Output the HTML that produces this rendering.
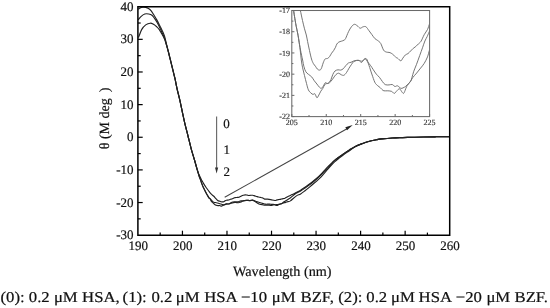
<!DOCTYPE html>
<html><head><meta charset="utf-8"><style>
html,body{margin:0;padding:0;background:#fff;}
body{width:550px;height:308px;overflow:hidden;position:relative;}
svg{position:absolute;left:0;top:0;will-change:transform;}
text{font-family:"Liberation Serif",serif;text-rendering:geometricPrecision;fill:#111;stroke:#111;stroke-width:0.2px;}
.tl{font-size:13px;}
.il{font-size:8px;fill:#333;stroke:#333;stroke-width:0.15px;}
.ax{font-size:14px;}
.cap{font-size:15px;}
</style></head><body>
<svg width="550" height="308" viewBox="0 0 550 308">
<defs><clipPath id="ic"><rect x="291.80" y="10.50" width="137.80" height="106.10"/></clipPath></defs>
<path d="M138.30 9.30 C138.62 9.07 139.45 8.23 140.20 7.90 C140.95 7.57 141.88 7.38 142.80 7.30 C143.72 7.22 144.75 7.22 145.70 7.40 C146.65 7.58 147.58 7.83 148.50 8.40 C149.42 8.97 150.30 9.70 151.20 10.80 C152.10 11.90 152.97 13.48 153.90 15.00 C154.83 16.52 155.90 18.28 156.80 19.90 C157.70 21.52 158.57 23.25 159.30 24.70 C160.03 26.15 160.57 27.30 161.20 28.60 C161.83 29.90 162.53 31.20 163.10 32.50 C163.67 33.80 164.18 35.10 164.60 36.40 C165.02 37.70 165.25 38.87 165.60 40.30 C165.95 41.73 166.20 42.93 166.70 45.00 C167.20 47.07 168.02 50.33 168.60 52.70 C169.18 55.07 169.67 57.03 170.20 59.20 C170.73 61.37 171.27 63.53 171.80 65.70 C172.33 67.87 172.87 70.03 173.40 72.20 C173.93 74.37 174.37 75.85 175.00 78.70 C175.63 81.55 176.43 85.88 177.20 89.30 C177.97 92.72 178.80 95.70 179.60 99.20 C180.40 102.70 181.15 106.37 182.00 110.30 C182.85 114.23 183.70 118.52 184.70 122.80 C185.70 127.08 186.92 131.67 188.00 136.00 C189.08 140.33 190.12 144.80 191.20 148.80 C192.28 152.80 193.50 156.53 194.50 160.00 C195.50 163.47 196.38 167.00 197.20 169.60 C198.02 172.20 198.62 173.77 199.40 175.60 C200.18 177.43 201.17 179.22 201.90 180.60 C202.63 181.98 203.10 182.75 203.80 183.90 C204.50 185.05 205.28 186.32 206.10 187.50 C206.92 188.68 207.83 189.88 208.70 191.00 C209.57 192.12 210.59 193.44 211.30 194.20 C212.01 194.96 212.47 195.18 212.93 195.56 C213.40 195.95 213.76 196.19 214.10 196.52 C214.43 196.84 214.59 197.12 214.94 197.52 C215.28 197.92 215.75 198.47 216.17 198.92 C216.59 199.37 217.04 199.88 217.46 200.21 C217.88 200.54 218.27 200.73 218.69 200.92 C219.11 201.10 219.57 201.18 219.99 201.32 C220.41 201.46 220.80 201.65 221.22 201.75 C221.64 201.85 222.09 201.92 222.51 201.92 C222.93 201.91 223.32 201.90 223.74 201.72 C224.16 201.53 224.62 201.06 225.04 200.81 C225.46 200.56 225.78 200.32 226.27 200.21 C226.75 200.09 227.46 200.18 227.95 200.12 C228.45 200.05 228.83 199.94 229.25 199.81 C229.67 199.68 230.06 199.47 230.48 199.32 C230.90 199.17 231.35 199.07 231.77 198.92 C232.19 198.77 232.66 198.58 233.00 198.41 C233.35 198.24 233.49 198.05 233.84 197.92 C234.20 197.78 234.64 197.68 235.14 197.61 C235.63 197.54 236.26 197.52 236.82 197.47 C237.38 197.42 238.05 197.39 238.50 197.32 C238.96 197.25 239.05 197.27 239.54 197.06 C240.03 196.84 240.79 196.31 241.42 196.01 C242.04 195.71 242.66 195.45 243.30 195.26 C243.93 195.07 244.60 194.90 245.24 194.87 C245.87 194.85 246.49 195.00 247.11 195.10 C247.74 195.20 248.37 195.45 248.99 195.47 C249.62 195.50 250.24 195.29 250.87 195.26 C251.50 195.22 252.11 195.16 252.75 195.26 C253.38 195.36 254.05 195.66 254.69 195.86 C255.33 196.06 255.94 196.26 256.57 196.46 C257.19 196.66 257.82 196.91 258.44 197.06 C259.07 197.21 259.69 197.24 260.32 197.36 C260.96 197.49 261.63 197.56 262.26 197.81 C262.90 198.06 263.52 198.63 264.14 198.86 C264.77 199.08 265.44 199.09 266.02 199.15 C266.60 199.20 267.13 199.17 267.64 199.19 C268.14 199.22 268.54 199.25 269.06 199.32 C269.58 199.39 270.18 199.51 270.74 199.62 C271.31 199.74 272.02 199.95 272.43 200.02 C272.84 200.10 272.73 200.01 273.20 200.09 C273.68 200.16 274.72 200.49 275.28 200.49 C275.84 200.49 276.08 200.24 276.57 200.09 C277.07 199.94 277.69 199.70 278.25 199.58 C278.82 199.46 279.38 199.48 279.94 199.38 C280.50 199.28 281.06 199.11 281.62 198.98 C282.18 198.85 282.74 198.69 283.30 198.58 C283.87 198.46 284.14 198.67 284.99 198.29 C285.84 197.91 287.20 196.91 288.40 196.30 C289.60 195.69 290.92 195.23 292.20 194.60 C293.48 193.97 294.70 193.23 296.10 192.50 C297.50 191.77 299.12 191.08 300.60 190.20 C302.08 189.32 303.52 188.23 305.00 187.20 C306.48 186.17 308.00 185.12 309.50 184.00 C311.00 182.88 312.50 181.73 314.00 180.50 C315.50 179.27 317.08 177.92 318.50 176.60 C319.92 175.28 321.17 174.00 322.50 172.60 C323.83 171.20 325.17 169.60 326.50 168.20 C327.83 166.80 329.15 165.50 330.50 164.20 C331.85 162.90 333.10 161.65 334.60 160.40 C336.10 159.15 337.85 157.92 339.50 156.70 C341.15 155.48 342.85 154.23 344.50 153.10 C346.15 151.97 347.73 150.93 349.40 149.90 C351.07 148.87 352.58 147.87 354.50 146.90 C356.42 145.93 358.98 144.87 360.90 144.10 C362.82 143.33 364.25 142.85 366.00 142.30 C367.75 141.75 369.65 141.23 371.40 140.80 C373.15 140.37 374.77 140.02 376.50 139.70 C378.23 139.38 379.17 139.18 381.80 138.90 C384.43 138.62 388.80 138.22 392.30 138.00 C395.80 137.78 399.35 137.72 402.80 137.60 C406.25 137.47 409.52 137.35 413.00 137.25 C416.48 137.15 419.87 137.07 423.70 137.00 C427.53 136.93 431.78 136.85 436.00 136.80 C440.22 136.75 446.83 136.72 449.00 136.70" fill="none" stroke="#222" stroke-width="1.15"/>
<path d="M138.30 19.80 C138.73 19.27 139.82 17.57 140.90 16.60 C141.98 15.63 143.50 14.43 144.80 14.00 C146.10 13.57 147.50 13.80 148.70 14.00 C149.90 14.20 150.97 14.38 152.00 15.20 C153.03 16.02 154.02 17.63 154.90 18.90 C155.78 20.17 156.57 21.50 157.30 22.80 C158.03 24.10 158.73 25.57 159.30 26.70 C159.87 27.83 160.22 28.55 160.70 29.60 C161.18 30.65 161.72 31.93 162.20 33.00 C162.68 34.07 163.17 34.95 163.60 36.00 C164.03 37.05 164.43 38.20 164.80 39.30 C165.17 40.40 165.45 41.42 165.80 42.60 C166.15 43.78 166.43 44.72 166.90 46.40 C167.37 48.08 168.05 50.57 168.60 52.70 C169.15 54.83 169.67 57.03 170.20 59.20 C170.73 61.37 171.27 63.53 171.80 65.70 C172.33 67.87 172.87 70.03 173.40 72.20 C173.93 74.37 174.37 75.85 175.00 78.70 C175.63 81.55 176.43 85.88 177.20 89.30 C177.97 92.72 178.80 95.70 179.60 99.20 C180.40 102.70 181.15 106.37 182.00 110.30 C182.85 114.23 183.70 118.52 184.70 122.80 C185.70 127.08 186.92 131.67 188.00 136.00 C189.08 140.33 190.12 144.80 191.20 148.80 C192.28 152.80 193.50 156.53 194.50 160.00 C195.50 163.47 196.43 166.93 197.20 169.60 C197.97 172.27 198.53 174.27 199.10 176.00 C199.67 177.73 200.13 178.68 200.60 180.00 C201.07 181.32 201.42 182.60 201.90 183.90 C202.38 185.20 202.90 186.50 203.50 187.80 C204.10 189.10 204.85 190.47 205.50 191.70 C206.15 192.93 206.78 194.13 207.40 195.20 C208.02 196.27 208.71 197.50 209.20 198.10 C209.69 198.70 209.93 198.45 210.34 198.83 C210.76 199.20 211.34 199.94 211.70 200.36 C212.07 200.79 212.20 201.06 212.54 201.36 C212.89 201.66 213.29 201.96 213.77 202.16 C214.26 202.36 214.82 202.43 215.46 202.56 C216.09 202.70 216.96 202.80 217.59 202.96 C218.23 203.13 218.72 203.38 219.28 203.56 C219.84 203.74 220.40 203.89 220.96 204.05 C221.52 204.22 222.16 204.45 222.64 204.56 C223.13 204.67 223.45 204.75 223.87 204.72 C224.29 204.68 224.75 204.51 225.17 204.36 C225.59 204.22 225.98 203.92 226.40 203.85 C226.82 203.79 227.27 203.99 227.69 203.98 C228.11 203.96 228.52 203.88 228.92 203.78 C229.32 203.67 229.70 203.56 230.09 203.36 C230.48 203.16 230.82 202.81 231.25 202.59 C231.69 202.38 232.12 202.18 232.68 202.05 C233.24 201.93 234.02 201.89 234.62 201.87 C235.22 201.85 235.74 201.94 236.30 201.92 C236.86 201.89 237.43 201.83 237.99 201.72 C238.55 201.60 239.11 201.37 239.67 201.22 C240.23 201.08 240.79 200.91 241.35 200.82 C241.91 200.74 242.47 200.77 243.04 200.72 C243.60 200.67 244.14 200.57 244.72 200.52 C245.30 200.47 245.93 200.44 246.53 200.42 C247.14 200.41 247.86 200.39 248.34 200.44 C248.83 200.49 249.10 200.70 249.45 200.73 C249.79 200.76 250.09 200.70 250.42 200.62 C250.74 200.55 251.02 200.37 251.39 200.29 C251.75 200.20 252.26 200.12 252.62 200.13 C252.97 200.14 253.26 200.23 253.52 200.35 C253.78 200.47 253.90 200.65 254.17 200.84 C254.44 201.03 254.83 201.29 255.14 201.52 C255.46 201.74 255.74 201.97 256.05 202.19 C256.36 202.42 256.70 202.65 257.02 202.87 C257.34 203.09 257.68 203.35 257.99 203.53 C258.30 203.72 258.51 203.85 258.90 203.98 C259.29 204.11 259.81 204.21 260.32 204.32 C260.83 204.42 261.48 204.51 261.94 204.61 C262.40 204.71 262.71 204.82 263.11 204.90 C263.50 204.98 263.71 205.07 264.34 205.10 C264.96 205.13 266.02 205.08 266.86 205.10 C267.70 205.12 268.68 205.13 269.39 205.19 C270.09 205.26 270.51 205.52 271.07 205.50 C271.63 205.48 272.19 205.22 272.75 205.10 C273.31 204.98 273.87 204.76 274.43 204.79 C275.00 204.83 275.68 205.20 276.12 205.32 C276.56 205.43 276.78 205.54 277.09 205.50 C277.40 205.46 277.68 205.25 278.00 205.08 C278.31 204.92 278.59 204.66 278.97 204.48 C279.34 204.31 279.75 204.22 280.26 204.05 C280.77 203.89 281.53 203.64 282.01 203.47 C282.48 203.30 282.52 203.22 283.11 203.04 C283.70 202.85 284.74 202.60 285.57 202.36 C286.40 202.12 287.29 201.85 288.10 201.61 C288.90 201.36 289.09 201.80 290.43 200.89 C291.76 199.97 294.40 197.26 296.10 196.10 C297.80 194.94 299.12 194.80 300.60 193.90 C302.08 193.00 303.52 191.83 305.00 190.70 C306.48 189.57 308.00 188.33 309.50 187.10 C311.00 185.87 312.50 184.60 314.00 183.30 C315.50 182.00 317.08 180.63 318.50 179.30 C319.92 177.97 321.17 176.75 322.50 175.30 C323.83 173.85 325.17 172.15 326.50 170.60 C327.83 169.05 329.15 167.47 330.50 166.00 C331.85 164.53 333.10 163.17 334.60 161.80 C336.10 160.43 337.85 159.10 339.50 157.80 C341.15 156.50 342.85 155.18 344.50 154.00 C346.15 152.82 347.73 151.88 349.40 150.70 C351.07 149.52 352.58 148.00 354.50 146.90 C356.42 145.80 358.98 144.87 360.90 144.10 C362.82 143.33 364.25 142.85 366.00 142.30 C367.75 141.75 369.65 141.23 371.40 140.80 C373.15 140.37 374.77 140.02 376.50 139.70 C378.23 139.38 379.17 139.18 381.80 138.90 C384.43 138.62 388.80 138.22 392.30 138.00 C395.80 137.78 399.35 137.72 402.80 137.60 C406.25 137.47 409.52 137.35 413.00 137.25 C416.48 137.15 419.87 137.07 423.70 137.00 C427.53 136.93 431.78 136.85 436.00 136.80 C440.22 136.75 446.83 136.72 449.00 136.70" fill="none" stroke="#222" stroke-width="1.15"/>
<path d="M138.50 37.50 C139.05 36.15 140.60 31.50 141.80 29.40 C143.00 27.30 144.30 25.93 145.70 24.90 C147.10 23.87 148.83 23.25 150.20 23.20 C151.57 23.15 152.80 23.98 153.90 24.60 C155.00 25.22 155.90 26.07 156.80 26.90 C157.70 27.73 158.65 28.75 159.30 29.60 C159.95 30.45 160.22 31.18 160.70 32.00 C161.18 32.82 161.72 33.67 162.20 34.50 C162.68 35.33 163.17 36.15 163.60 37.00 C164.03 37.85 164.43 38.67 164.80 39.60 C165.17 40.53 165.45 41.47 165.80 42.60 C166.15 43.73 166.43 44.72 166.90 46.40 C167.37 48.08 168.05 50.57 168.60 52.70 C169.15 54.83 169.67 57.03 170.20 59.20 C170.73 61.37 171.27 63.53 171.80 65.70 C172.33 67.87 172.87 70.03 173.40 72.20 C173.93 74.37 174.37 75.85 175.00 78.70 C175.63 81.55 176.43 85.88 177.20 89.30 C177.97 92.72 178.80 95.70 179.60 99.20 C180.40 102.70 181.15 106.37 182.00 110.30 C182.85 114.23 183.70 118.52 184.70 122.80 C185.70 127.08 186.92 131.67 188.00 136.00 C189.08 140.33 190.12 144.80 191.20 148.80 C192.28 152.80 193.50 156.53 194.50 160.00 C195.50 163.47 196.43 166.93 197.20 169.60 C197.97 172.27 198.53 174.27 199.10 176.00 C199.67 177.73 200.13 178.68 200.60 180.00 C201.07 181.32 201.42 182.60 201.90 183.90 C202.38 185.20 202.90 186.50 203.50 187.80 C204.10 189.10 204.85 190.47 205.50 191.70 C206.15 192.93 206.78 194.13 207.40 195.20 C208.02 196.27 208.74 197.50 209.20 198.10 C209.66 198.70 209.87 198.45 210.15 198.83 C210.42 199.20 210.60 199.91 210.86 200.36 C211.12 200.82 211.36 201.16 211.70 201.56 C212.05 201.96 212.51 202.36 212.93 202.76 C213.35 203.16 213.81 203.60 214.23 203.96 C214.65 204.33 214.97 204.71 215.46 204.96 C215.94 205.21 216.64 205.34 217.14 205.45 C217.64 205.57 218.01 205.64 218.43 205.65 C218.86 205.67 219.24 205.48 219.66 205.56 C220.09 205.65 220.54 206.13 220.96 206.16 C221.38 206.19 221.77 205.93 222.19 205.76 C222.61 205.59 223.06 205.33 223.48 205.16 C223.91 205.00 224.29 204.93 224.71 204.76 C225.14 204.60 225.59 204.29 226.01 204.16 C226.43 204.03 226.82 204.03 227.24 203.99 C227.66 203.96 228.08 204.00 228.53 203.95 C228.99 203.89 229.44 203.81 229.96 203.67 C230.48 203.53 231.08 203.31 231.64 203.13 C232.20 202.95 232.76 202.72 233.33 202.59 C233.89 202.47 234.45 202.39 235.01 202.39 C235.57 202.40 236.13 202.57 236.69 202.62 C237.25 202.68 237.81 202.77 238.37 202.72 C238.94 202.66 239.50 202.50 240.06 202.32 C240.62 202.13 241.18 201.84 241.74 201.62 C242.30 201.41 242.93 201.19 243.42 201.02 C243.92 200.86 244.18 200.72 244.72 200.62 C245.26 200.53 246.02 200.47 246.66 200.44 C247.30 200.41 248.01 200.42 248.54 200.44 C249.07 200.46 249.40 200.56 249.83 200.55 C250.27 200.54 250.72 200.46 251.13 200.39 C251.54 200.33 251.86 200.14 252.29 200.18 C252.73 200.22 253.17 200.46 253.72 200.62 C254.27 200.79 254.97 200.97 255.60 201.18 C256.22 201.38 256.84 201.63 257.47 201.85 C258.11 202.08 258.76 202.34 259.42 202.53 C260.07 202.73 260.76 202.83 261.42 203.02 C262.08 203.21 262.74 203.48 263.36 203.67 C263.99 203.86 264.45 204.06 265.18 204.15 C265.90 204.23 266.94 204.20 267.70 204.19 C268.47 204.19 269.15 204.09 269.77 204.13 C270.40 204.17 270.90 204.41 271.46 204.44 C272.02 204.47 272.50 204.28 273.14 204.33 C273.78 204.38 274.68 204.66 275.28 204.72 C275.87 204.77 276.17 204.71 276.70 204.65 C277.23 204.60 277.86 204.52 278.45 204.41 C279.04 204.30 279.72 204.11 280.26 203.98 C280.80 203.85 281.32 203.79 281.69 203.64 C282.05 203.49 282.13 203.34 282.46 203.09 C282.80 202.83 283.21 202.42 283.69 202.09 C284.18 201.75 284.74 201.49 285.38 201.09 C286.01 200.69 286.85 200.12 287.51 199.69 C288.17 199.25 288.76 198.86 289.33 198.49 C289.89 198.11 289.75 198.31 290.88 197.44 C292.01 196.58 294.48 194.37 296.10 193.30 C297.72 192.23 299.12 191.88 300.60 191.00 C302.08 190.12 303.52 189.03 305.00 188.00 C306.48 186.97 308.00 185.92 309.50 184.80 C311.00 183.68 312.50 182.53 314.00 181.30 C315.50 180.07 317.08 178.72 318.50 177.40 C319.92 176.08 321.17 174.80 322.50 173.40 C323.83 172.00 325.17 170.40 326.50 169.00 C327.83 167.60 329.15 166.43 330.50 165.00 C331.85 163.57 333.10 161.78 334.60 160.40 C336.10 159.02 337.85 157.92 339.50 156.70 C341.15 155.48 342.85 154.23 344.50 153.10 C346.15 151.97 347.73 150.93 349.40 149.90 C351.07 148.87 352.58 147.87 354.50 146.90 C356.42 145.93 358.98 144.87 360.90 144.10 C362.82 143.33 364.25 142.85 366.00 142.30 C367.75 141.75 369.65 141.23 371.40 140.80 C373.15 140.37 374.77 140.02 376.50 139.70 C378.23 139.38 379.17 139.18 381.80 138.90 C384.43 138.62 388.80 138.22 392.30 138.00 C395.80 137.78 399.35 137.72 402.80 137.60 C406.25 137.47 409.52 137.35 413.00 137.25 C416.48 137.15 419.87 137.07 423.70 137.00 C427.53 136.93 431.78 136.85 436.00 136.80 C440.22 136.75 446.83 136.72 449.00 136.70" fill="none" stroke="#222" stroke-width="1.15"/>
<path d="M137.90 6.70 H449.70 V235.20 H137.90 Z" fill="none" stroke="#000" stroke-width="1.5"/>
<line x1="160.17" y1="235.20" x2="160.17" y2="232.60" stroke="#000" stroke-width="1.2"/>
<line x1="182.44" y1="235.20" x2="182.44" y2="230.70" stroke="#000" stroke-width="1.2"/>
<line x1="204.71" y1="235.20" x2="204.71" y2="232.60" stroke="#000" stroke-width="1.2"/>
<line x1="226.98" y1="235.20" x2="226.98" y2="230.70" stroke="#000" stroke-width="1.2"/>
<line x1="249.25" y1="235.20" x2="249.25" y2="232.60" stroke="#000" stroke-width="1.2"/>
<line x1="271.52" y1="235.20" x2="271.52" y2="230.70" stroke="#000" stroke-width="1.2"/>
<line x1="293.79" y1="235.20" x2="293.79" y2="232.60" stroke="#000" stroke-width="1.2"/>
<line x1="316.06" y1="235.20" x2="316.06" y2="230.70" stroke="#000" stroke-width="1.2"/>
<line x1="338.33" y1="235.20" x2="338.33" y2="232.60" stroke="#000" stroke-width="1.2"/>
<line x1="360.60" y1="235.20" x2="360.60" y2="230.70" stroke="#000" stroke-width="1.2"/>
<line x1="382.87" y1="235.20" x2="382.87" y2="232.60" stroke="#000" stroke-width="1.2"/>
<line x1="405.14" y1="235.20" x2="405.14" y2="230.70" stroke="#000" stroke-width="1.2"/>
<line x1="427.41" y1="235.20" x2="427.41" y2="232.60" stroke="#000" stroke-width="1.2"/>
<line x1="137.90" y1="23.02" x2="140.70" y2="23.02" stroke="#000" stroke-width="1.2"/>
<line x1="137.90" y1="39.34" x2="142.70" y2="39.34" stroke="#000" stroke-width="1.2"/>
<line x1="137.90" y1="55.66" x2="140.70" y2="55.66" stroke="#000" stroke-width="1.2"/>
<line x1="137.90" y1="71.98" x2="142.70" y2="71.98" stroke="#000" stroke-width="1.2"/>
<line x1="137.90" y1="88.30" x2="140.70" y2="88.30" stroke="#000" stroke-width="1.2"/>
<line x1="137.90" y1="104.62" x2="142.70" y2="104.62" stroke="#000" stroke-width="1.2"/>
<line x1="137.90" y1="120.94" x2="140.70" y2="120.94" stroke="#000" stroke-width="1.2"/>
<line x1="137.90" y1="137.26" x2="142.70" y2="137.26" stroke="#000" stroke-width="1.2"/>
<line x1="137.90" y1="153.58" x2="140.70" y2="153.58" stroke="#000" stroke-width="1.2"/>
<line x1="137.90" y1="169.90" x2="142.70" y2="169.90" stroke="#000" stroke-width="1.2"/>
<line x1="137.90" y1="186.22" x2="140.70" y2="186.22" stroke="#000" stroke-width="1.2"/>
<line x1="137.90" y1="202.54" x2="142.70" y2="202.54" stroke="#000" stroke-width="1.2"/>
<line x1="137.90" y1="218.86" x2="140.70" y2="218.86" stroke="#000" stroke-width="1.2"/>
<rect x="291.80" y="10.50" width="137.80" height="106.10" fill="#fff" stroke="#6a6a6a" stroke-width="1.05"/>
<line x1="291.80" y1="116.60" x2="291.80" y2="114.00" stroke="#6a6a6a" stroke-width="1"/>
<line x1="309.03" y1="116.60" x2="309.03" y2="115.00" stroke="#6a6a6a" stroke-width="1"/>
<line x1="326.25" y1="116.60" x2="326.25" y2="114.00" stroke="#6a6a6a" stroke-width="1"/>
<line x1="343.48" y1="116.60" x2="343.48" y2="115.00" stroke="#6a6a6a" stroke-width="1"/>
<line x1="360.70" y1="116.60" x2="360.70" y2="114.00" stroke="#6a6a6a" stroke-width="1"/>
<line x1="377.93" y1="116.60" x2="377.93" y2="115.00" stroke="#6a6a6a" stroke-width="1"/>
<line x1="395.15" y1="116.60" x2="395.15" y2="114.00" stroke="#6a6a6a" stroke-width="1"/>
<line x1="412.38" y1="116.60" x2="412.38" y2="115.00" stroke="#6a6a6a" stroke-width="1"/>
<line x1="429.60" y1="116.60" x2="429.60" y2="114.00" stroke="#6a6a6a" stroke-width="1"/>
<line x1="291.80" y1="10.50" x2="294.40" y2="10.50" stroke="#6a6a6a" stroke-width="1"/>
<line x1="291.80" y1="21.11" x2="293.40" y2="21.11" stroke="#6a6a6a" stroke-width="1"/>
<line x1="291.80" y1="31.72" x2="294.40" y2="31.72" stroke="#6a6a6a" stroke-width="1"/>
<line x1="291.80" y1="42.33" x2="293.40" y2="42.33" stroke="#6a6a6a" stroke-width="1"/>
<line x1="291.80" y1="52.94" x2="294.40" y2="52.94" stroke="#6a6a6a" stroke-width="1"/>
<line x1="291.80" y1="63.55" x2="293.40" y2="63.55" stroke="#6a6a6a" stroke-width="1"/>
<line x1="291.80" y1="74.16" x2="294.40" y2="74.16" stroke="#6a6a6a" stroke-width="1"/>
<line x1="291.80" y1="84.77" x2="293.40" y2="84.77" stroke="#6a6a6a" stroke-width="1"/>
<line x1="291.80" y1="95.38" x2="294.40" y2="95.38" stroke="#6a6a6a" stroke-width="1"/>
<line x1="291.80" y1="105.99" x2="293.40" y2="105.99" stroke="#6a6a6a" stroke-width="1"/>
<line x1="291.80" y1="116.60" x2="294.40" y2="116.60" stroke="#6a6a6a" stroke-width="1"/>
<g clip-path="url(#ic)">
<path d="M300.40 10.60 C300.75 12.25 301.82 17.47 302.50 20.50 C303.18 23.53 303.87 26.38 304.50 28.80 C305.13 31.22 305.78 32.88 306.30 35.00 C306.82 37.12 307.07 38.90 307.60 41.50 C308.13 44.10 308.85 47.68 309.50 50.60 C310.15 53.52 310.85 56.83 311.50 59.00 C312.15 61.17 312.75 62.40 313.40 63.60 C314.05 64.80 314.75 65.30 315.40 66.20 C316.05 67.10 316.65 68.35 317.30 69.00 C317.95 69.65 318.65 70.13 319.30 70.10 C319.95 70.07 320.55 70.00 321.20 68.80 C321.85 67.60 322.55 64.53 323.20 62.90 C323.85 61.27 324.35 59.75 325.10 59.00 C325.85 58.25 326.93 58.83 327.70 58.40 C328.47 57.97 329.05 57.27 329.70 56.40 C330.35 55.53 330.95 54.17 331.60 53.20 C332.25 52.23 332.95 51.58 333.60 50.60 C334.25 49.62 334.97 48.38 335.50 47.30 C336.03 46.22 336.25 44.97 336.80 44.10 C337.35 43.23 338.03 42.58 338.80 42.10 C339.57 41.62 340.53 41.52 341.40 41.20 C342.27 40.88 343.30 40.65 344.00 40.20 C344.70 39.75 344.85 39.92 345.60 38.50 C346.35 37.08 347.53 33.65 348.50 31.70 C349.47 29.75 350.42 28.03 351.40 26.80 C352.38 25.57 353.42 24.47 354.40 24.30 C355.38 24.13 356.33 25.15 357.30 25.80 C358.27 26.45 359.23 28.03 360.20 28.20 C361.17 28.37 362.13 27.03 363.10 26.80 C364.07 26.57 365.02 26.15 366.00 26.80 C366.98 27.45 368.02 29.40 369.00 30.70 C369.98 32.00 370.93 33.30 371.90 34.60 C372.87 35.90 373.83 37.52 374.80 38.50 C375.77 39.48 376.72 39.68 377.70 40.50 C378.68 41.32 379.72 41.78 380.70 43.40 C381.68 45.02 382.63 48.75 383.60 50.20 C384.57 51.65 385.60 51.73 386.50 52.10 C387.40 52.47 388.22 52.22 389.00 52.40 C389.78 52.58 390.40 52.73 391.20 53.20 C392.00 53.67 392.93 54.43 393.80 55.20 C394.67 55.97 395.77 57.30 396.40 57.80 C397.03 58.30 396.87 57.70 397.60 58.20 C398.33 58.70 399.93 60.80 400.80 60.80 C401.67 60.80 402.03 59.18 402.80 58.20 C403.57 57.22 404.53 55.67 405.40 54.90 C406.27 54.13 407.13 54.25 408.00 53.60 C408.87 52.95 409.73 51.87 410.60 51.00 C411.47 50.13 412.33 49.15 413.20 48.40 C414.07 47.65 414.93 47.25 415.80 46.50 C416.67 45.75 417.53 44.77 418.40 43.90 C419.27 43.03 420.03 42.83 421.00 41.30 C421.97 39.77 423.12 36.67 424.20 34.70 C425.28 32.73 426.65 31.23 427.50 29.50 C428.35 27.77 429.00 25.17 429.30 24.30" fill="none" stroke="#6e6e6e" stroke-width="0.95"/>
<path d="M293.60 10.60 C293.95 12.77 295.00 19.70 295.70 23.60 C296.40 27.50 297.28 31.27 297.80 34.00 C298.32 36.73 298.35 37.33 298.80 40.00 C299.25 42.67 299.87 46.67 300.50 50.00 C301.13 53.33 302.03 57.25 302.60 60.00 C303.17 62.75 303.37 64.55 303.90 66.50 C304.43 68.45 305.05 70.40 305.80 71.70 C306.55 73.00 307.42 73.43 308.40 74.30 C309.38 75.17 310.72 75.82 311.70 76.90 C312.68 77.98 313.43 79.62 314.30 80.80 C315.17 81.98 316.03 82.92 316.90 84.00 C317.77 85.08 318.75 86.58 319.50 87.30 C320.25 88.02 320.75 88.52 321.40 88.30 C322.05 88.08 322.75 86.93 323.40 86.00 C324.05 85.07 324.65 83.12 325.30 82.70 C325.95 82.28 326.65 83.58 327.30 83.50 C327.95 83.42 328.58 82.87 329.20 82.20 C329.82 81.53 330.40 80.78 331.00 79.50 C331.60 78.22 332.13 75.92 332.80 74.50 C333.47 73.08 334.13 71.78 335.00 71.00 C335.87 70.22 337.07 69.95 338.00 69.80 C338.93 69.65 339.73 70.27 340.60 70.10 C341.47 69.93 342.33 69.55 343.20 68.80 C344.07 68.05 344.93 66.57 345.80 65.60 C346.67 64.63 347.53 63.55 348.40 63.00 C349.27 62.45 350.13 62.63 351.00 62.30 C351.87 61.97 352.70 61.32 353.60 61.00 C354.50 60.68 355.47 60.48 356.40 60.40 C357.33 60.32 358.45 60.17 359.20 60.50 C359.95 60.83 360.37 62.20 360.90 62.40 C361.43 62.60 361.90 62.18 362.40 61.70 C362.90 61.22 363.33 60.03 363.90 59.50 C364.47 58.97 365.25 58.43 365.80 58.50 C366.35 58.57 366.80 59.13 367.20 59.90 C367.60 60.67 367.78 61.83 368.20 63.10 C368.62 64.37 369.22 66.03 369.70 67.50 C370.18 68.97 370.62 70.43 371.10 71.90 C371.58 73.37 372.10 74.85 372.60 76.30 C373.10 77.75 373.62 79.40 374.10 80.60 C374.58 81.80 374.90 82.65 375.50 83.50 C376.10 84.35 376.92 85.02 377.70 85.70 C378.48 86.38 379.48 86.97 380.20 87.60 C380.92 88.23 381.38 88.97 382.00 89.50 C382.62 90.03 382.93 90.58 383.90 90.80 C384.87 91.02 386.50 90.70 387.80 90.80 C389.10 90.90 390.62 90.97 391.70 91.40 C392.78 91.83 393.43 93.50 394.30 93.40 C395.17 93.30 396.03 91.57 396.90 90.80 C397.77 90.03 398.63 88.57 399.50 88.80 C400.37 89.03 401.42 91.43 402.10 92.20 C402.78 92.97 403.12 93.65 403.60 93.40 C404.08 93.15 404.52 91.80 405.00 90.70 C405.48 89.60 405.92 87.92 406.50 86.80 C407.08 85.68 407.72 85.10 408.50 84.00 C409.28 82.90 410.47 81.30 411.20 80.20 C411.93 79.10 411.98 78.60 412.90 77.40 C413.82 76.20 415.42 74.55 416.70 73.00 C417.98 71.45 419.35 69.70 420.60 68.10 C421.85 66.50 423.05 65.27 424.20 63.40 C425.35 61.53 426.65 59.07 427.50 56.90 C428.35 54.73 429.00 51.48 429.30 50.40" fill="none" stroke="#6e6e6e" stroke-width="0.95"/>
<path d="M293.60 10.60 C293.95 12.77 295.00 19.70 295.70 23.60 C296.40 27.50 297.28 31.27 297.80 34.00 C298.32 36.73 298.40 37.33 298.80 40.00 C299.20 42.67 299.78 46.67 300.20 50.00 C300.62 53.33 300.90 57.03 301.30 60.00 C301.70 62.97 302.07 65.20 302.60 67.80 C303.13 70.40 303.85 73.00 304.50 75.60 C305.15 78.20 305.85 81.02 306.50 83.40 C307.15 85.78 307.65 88.28 308.40 89.90 C309.15 91.52 310.23 92.35 311.00 93.10 C311.77 93.85 312.35 94.28 313.00 94.40 C313.65 94.52 314.25 93.25 314.90 93.80 C315.55 94.35 316.25 97.48 316.90 97.70 C317.55 97.92 318.15 96.18 318.80 95.10 C319.45 94.02 320.15 92.28 320.80 91.20 C321.45 90.12 322.05 89.68 322.70 88.60 C323.35 87.52 324.05 85.53 324.70 84.70 C325.35 83.87 325.95 83.83 326.60 83.60 C327.25 83.37 327.90 83.65 328.60 83.30 C329.30 82.95 330.00 82.38 330.80 81.50 C331.60 80.62 332.53 79.17 333.40 78.00 C334.27 76.83 335.13 75.30 336.00 74.50 C336.87 73.70 337.73 73.17 338.60 73.20 C339.47 73.23 340.33 74.35 341.20 74.70 C342.07 75.05 342.93 75.63 343.80 75.30 C344.67 74.97 345.53 73.88 346.40 72.70 C347.27 71.52 348.13 69.60 349.00 68.20 C349.87 66.80 350.83 65.38 351.60 64.30 C352.37 63.22 352.77 62.33 353.60 61.70 C354.43 61.07 355.62 60.70 356.60 60.50 C357.58 60.30 358.68 60.38 359.50 60.50 C360.32 60.62 360.83 61.25 361.50 61.20 C362.17 61.15 362.87 60.60 363.50 60.20 C364.13 59.80 364.63 58.55 365.30 58.80 C365.97 59.05 366.65 60.62 367.50 61.70 C368.35 62.78 369.43 63.97 370.40 65.30 C371.37 66.63 372.32 68.23 373.30 69.70 C374.28 71.17 375.28 72.83 376.30 74.10 C377.32 75.37 378.38 76.07 379.40 77.30 C380.42 78.53 381.43 80.28 382.40 81.50 C383.37 82.72 384.08 84.03 385.20 84.60 C386.32 85.17 387.92 84.92 389.10 84.90 C390.28 84.88 391.33 84.23 392.30 84.50 C393.27 84.77 394.03 86.28 394.90 86.50 C395.77 86.72 396.52 85.50 397.50 85.80 C398.48 86.10 399.88 87.95 400.80 88.30 C401.72 88.65 402.18 88.23 403.00 87.90 C403.82 87.57 404.78 87.03 405.70 86.30 C406.62 85.57 407.67 84.33 408.50 83.50 C409.33 82.67 410.13 82.27 410.70 81.30 C411.27 80.33 411.38 79.38 411.90 77.70 C412.42 76.02 413.05 73.37 413.80 71.20 C414.55 69.03 415.42 67.30 416.40 64.70 C417.38 62.10 418.68 58.42 419.70 55.60 C420.72 52.78 421.63 50.23 422.50 47.80 C423.37 45.37 424.12 42.88 424.90 41.00 C425.68 39.12 426.47 38.10 427.20 36.50 C427.93 34.90 428.95 32.25 429.30 31.40" fill="none" stroke="#6e6e6e" stroke-width="0.95"/>
</g>
<text x="290" y="13.20" text-anchor="end" class="il">-17</text>
<text x="290" y="34.42" text-anchor="end" class="il">-18</text>
<text x="290" y="55.64" text-anchor="end" class="il">-19</text>
<text x="290" y="76.86" text-anchor="end" class="il">-20</text>
<text x="290" y="98.08" text-anchor="end" class="il">-21</text>
<text x="290" y="119.30" text-anchor="end" class="il">-22</text>
<text x="291.80" y="125" text-anchor="middle" class="il">205</text>
<text x="326.25" y="125" text-anchor="middle" class="il">210</text>
<text x="360.70" y="125" text-anchor="middle" class="il">215</text>
<text x="395.15" y="125" text-anchor="middle" class="il">220</text>
<text x="429.60" y="125" text-anchor="middle" class="il">225</text>
<text x="138.20" y="249.5" text-anchor="middle" class="tl">190</text>
<text x="182.74" y="249.5" text-anchor="middle" class="tl">200</text>
<text x="227.28" y="249.5" text-anchor="middle" class="tl">210</text>
<text x="271.82" y="249.5" text-anchor="middle" class="tl">220</text>
<text x="316.36" y="249.5" text-anchor="middle" class="tl">230</text>
<text x="360.90" y="249.5" text-anchor="middle" class="tl">240</text>
<text x="405.44" y="249.5" text-anchor="middle" class="tl">250</text>
<text x="449.98" y="249.5" text-anchor="middle" class="tl">260</text>
<text x="133.6" y="10.80" text-anchor="end" class="tl">40</text>
<text x="133.6" y="43.44" text-anchor="end" class="tl">30</text>
<text x="133.6" y="76.08" text-anchor="end" class="tl">20</text>
<text x="133.6" y="108.72" text-anchor="end" class="tl">10</text>
<text x="133.6" y="141.36" text-anchor="end" class="tl">0</text>
<text x="133.6" y="174.00" text-anchor="end" class="tl">-10</text>
<text x="133.6" y="206.64" text-anchor="end" class="tl">-20</text>
<text x="133.6" y="239.28" text-anchor="end" class="tl">-30</text>
<line x1="216.6" y1="116.5" x2="216.6" y2="168" stroke="#6a6a6a" stroke-width="1.15"/>
<path d="M215.0 167.5 L218.2 167.5 L216.6 173.4 Z" fill="#333"/>
<text x="226.6" y="128" text-anchor="middle" class="tl">0</text>
<text x="226.8" y="153.6" text-anchor="middle" class="tl">1</text>
<text x="226.8" y="176.4" text-anchor="middle" class="tl">2</text>
<line x1="224.7" y1="197.3" x2="347" y2="128.8" stroke="#444" stroke-width="1.05"/>
<path d="M345.29 127.21 L352.7 125.1 L347.05 130.35 Z" fill="#222"/>
<text x="233.0" y="275.6" class="ax" style="font-size:14.2px">Wavelength (nm)</text>
<text transform="translate(108.6,149.3) rotate(-90)" class="ax">θ (M deg <tspan dx="2.6">)</tspan></text>
<text transform="translate(0.5,302.4) scale(1.115,1)" class="cap"><tspan x="0.00">(0):</tspan><tspan x="25.38">0.2</tspan><tspan x="47.89">μM</tspan><tspan x="73.18">HSA,</tspan><tspan x="109.51">(1):</tspan><tspan x="135.43">0.2</tspan><tspan x="157.22">μM</tspan><tspan x="182.69">HSA</tspan><tspan x="215.61">−10</tspan><tspan x="243.32">μM</tspan><tspan x="269.06">BZF,</tspan><tspan x="302.96">(2):</tspan><tspan x="328.07">0.2</tspan><tspan x="350.22">μM</tspan><tspan x="374.98">HSA</tspan><tspan x="408.25">−20</tspan><tspan x="435.78">μM</tspan><tspan x="460.99">BZF.</tspan></text>
</svg>
</body></html>
